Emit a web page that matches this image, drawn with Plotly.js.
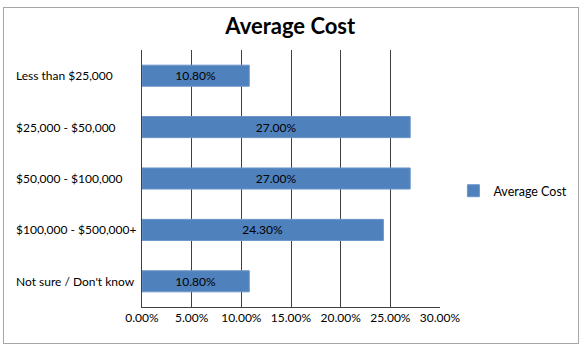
<!DOCTYPE html>
<html>
<head>
<meta charset="utf-8">
<script src="https://cdn.plot.ly/plotly-3.0.1.min.js"></script>
<style>
  html, body { margin: 0; padding: 0; background: #fff; }
  #frame { position: absolute; left: 3px; top: 7px; width: 574px; height: 335px; border: 1px solid #a6a6a6; pointer-events: none; z-index: 5; }
  #chart { position: absolute; left: 0; top: 0; width: 584px; height: 351px; }
</style>
</head>
<body>
<div id="chart"></div>
<div id="frame"></div>
<script>
const categories = ["Less than $25,000", "$25,000 - $50,000", "$50,000 - $100,000", "$100,000 - $500,000+", "Not sure / Don't know"];
const averageCost = [0.108, 0.27, 0.27, 0.243, 0.108];
const seriesName = "Average Cost";
const xTickValues = [0, 0.05, 0.10, 0.15, 0.20, 0.25, 0.30];

const fontFamily = "Lato, 'Open Sans', sans-serif";

const trace = {
  type: "bar",
  orientation: "h",
  name: seriesName,
  y: categories,
  x: averageCost,
  marker: { color: "#4F81BD", line: { color: "#6C96C8", width: 1 } },
  texttemplate: "%{x:.2%}",
  textposition: "inside",
  insidetextanchor: "middle",
  textangle: 0,
  textfont: { color: "#000", size: 12, family: fontFamily },
  hoverinfo: "none",
  showlegend: true
};

const annotations = categories.map(c => ({
  xref: "paper", yref: "y",
  x: -0.43, y: c,
  xanchor: "left", yanchor: "middle",
  text: c, showarrow: false,
  font: { size: 12, color: "#000", family: fontFamily }
}));

const layout = {
  width: 584, height: 351,
  margin: { l: 142, r: 144, t: 50, b: 44, pad: 0, autoexpand: false },
  paper_bgcolor: "#fff", plot_bgcolor: "#fff",
  font: { family: fontFamily, color: "#000", size: 12 },
  title: { text: "<b>Average Cost</b>", x: 0.497, xanchor: "center", y: 0.925, yanchor: "middle", font: { size: 22, family: fontFamily, color: "#000" } },
  bargap: 0.59,
  xaxis: {
    range: [0, 0.30], tickvals: xTickValues, tickformat: ".2%",
    showgrid: true, gridcolor: "#404040", gridwidth: 1,
    showline: true, linecolor: "#404040", linewidth: 1,
    zeroline: false, ticks: "", ticklen: 0,
    tickfont: { size: 12, family: fontFamily, color: "#000" },
    fixedrange: true
  },
  yaxis: {
    autorange: "reversed",
    showticklabels: false,
    showline: true, linecolor: "#404040", linewidth: 1,
    showgrid: false, zeroline: false, ticks: "",
    fixedrange: true
  },
  showlegend: true,
  legend: {
    x: 1.045, xanchor: "left", y: 0.451, yanchor: "middle",
    itemwidth: 30,
    font: { size: 12.5, family: fontFamily, color: "#000" },
    bgcolor: "rgba(0,0,0,0)"
  },
  annotations: annotations
};

Plotly.newPlot("chart", [trace], layout, { displayModeBar: false, staticPlot: true });
</script>
</body>
</html>
